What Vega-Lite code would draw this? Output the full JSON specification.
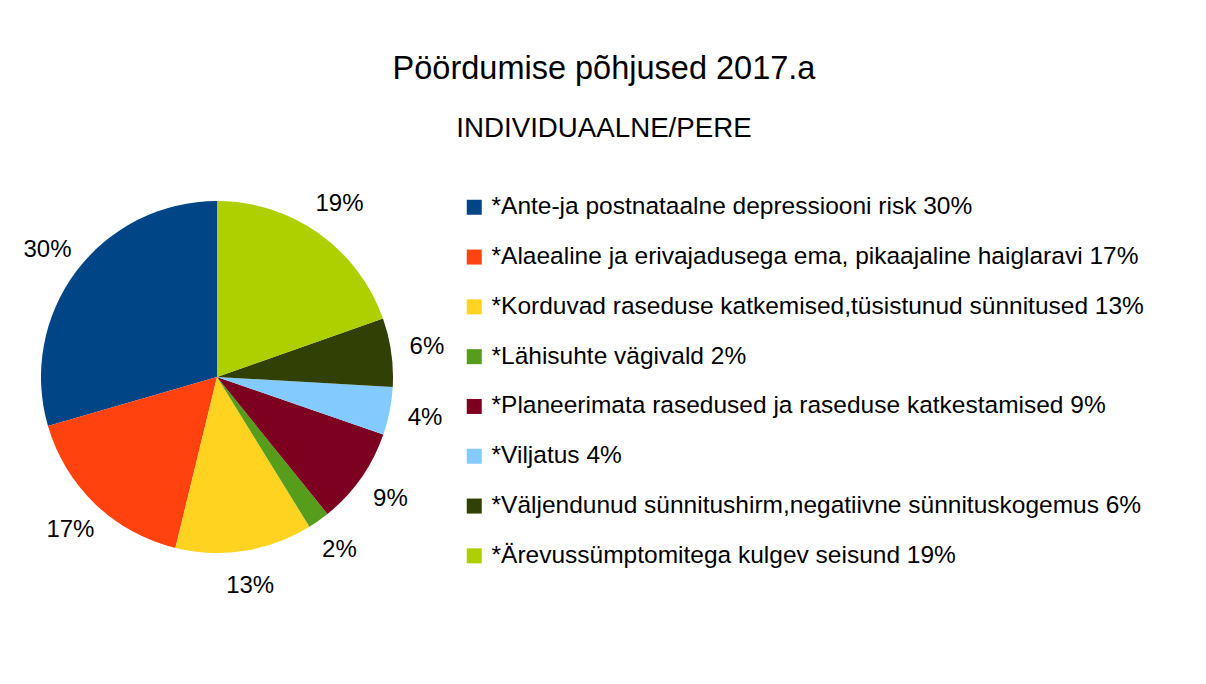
{
  "$schema": "https://vega.github.io/schema/vega-lite/v6.json",
  "autosize": {"type": "none"},
  "padding": {"left": 41, "top": 201, "right": 813, "bottom": 131},
  "width": 352,
  "height": 352,
  "background": "white",
  "title": {
    "text": "Pöördumise põhjused 2017.a",
    "subtitle": "INDIVIDUAALNE/PERE",
    "anchor": "middle",
    "frame": "group",
    "dx": 387,
    "offset": 49,
    "fontSize": 32.5,
    "fontWeight": "normal",
    "subtitleFontSize": 27.7,
    "subtitlePadding": 30,
    "color": "black",
    "subtitleColor": "black",
    "font": "Liberation Sans",
    "subtitleFont": "Liberation Sans"
  },
  "data": {
    "values": [
      {"category": "*Ante-ja postnataalne depressiooni risk 30%", "value": 29.5, "label": "30%"},
      {"category": "*Alaealine ja erivajadusega ema, pikaajaline haiglaravi 17%", "value": 16.7, "label": "17%"},
      {"category": "*Korduvad raseduse katkemised,tüsistunud sünnitused 13%", "value": 12.6, "label": "13%"},
      {"category": "*Lähisuhte vägivald 2%", "value": 2.0, "label": "2%"},
      {"category": "*Planeerimata rasedused ja raseduse katkestamised 9%", "value": 8.9, "label": "9%"},
      {"category": "*Viljatus 4%", "value": 4.4, "label": "4%"},
      {"category": "*Väljendunud sünnitushirm,negatiivne sünnituskogemus 6%", "value": 6.3, "label": "6%"},
      {"category": "*Ärevussümptomitega kulgev seisund 19%", "value": 19.6, "label": "19%"}
    ]
  },
  "transform": [
    {"window": [{"op": "row_number", "as": "rowIndex"}]}
  ],
  "encoding": {
    "theta": {"field": "value", "type": "quantitative", "stack": true},
    "order": {"field": "rowIndex", "type": "quantitative", "sort": "descending"}
  },
  "layer": [
    {
      "mark": {"type": "arc", "outerRadius": 176, "strokeWidth": 0},
      "encoding": {
        "color": {
          "field": "category",
          "type": "nominal",
          "scale": {
            "domain": [
              "*Ante-ja postnataalne depressiooni risk 30%",
              "*Alaealine ja erivajadusega ema, pikaajaline haiglaravi 17%",
              "*Korduvad raseduse katkemised,tüsistunud sünnitused 13%",
              "*Lähisuhte vägivald 2%",
              "*Planeerimata rasedused ja raseduse katkestamised 9%",
              "*Viljatus 4%",
              "*Väljendunud sünnitushirm,negatiivne sünnituskogemus 6%",
              "*Ärevussümptomitega kulgev seisund 19%"
            ],
            "range": ["#004586", "#ff420e", "#ffd320", "#579d1c", "#7e0021", "#83caff", "#314004", "#aecf00"]
          },
          "legend": {
            "title": null,
            "orient": "none",
            "legendX": 421,
            "legendY": -6,
            "padding": 0,
            "symbolType": "square",
            "symbolSize": 225,
            "symbolStrokeWidth": 0,
            "symbolOpacity": 1,
            "labelFontSize": 24.5,
            "labelFont": "Liberation Sans",
            "labelColor": "black",
            "labelOffset": 5,
            "labelLimit": 0,
            "rowPadding": 24.8
          }
        }
      }
    },
    {
      "mark": {"type": "text", "radius": 212, "fontSize": 24, "font": "Liberation Sans", "color": "black", "align": "center", "baseline": "middle"},
      "encoding": {
        "text": {"field": "label", "type": "nominal"}
      }
    }
  ],
  "config": {
    "view": {"stroke": null}
  }
}
